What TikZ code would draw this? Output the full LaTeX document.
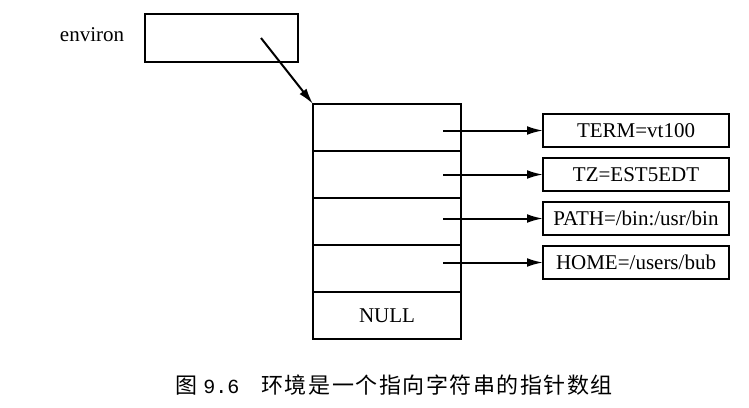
\documentclass[tikz,border=0pt]{standalone}
\usepackage{fontspec}
\setmainfont{Liberation Serif}
\newfontfamily\cjkfont{Noto Sans CJK SC}
\newfontfamily\numfont{Liberation Mono}
\usetikzlibrary{
  arrows.meta,
  positioning,
  calc
}

\begin{document}
\begin{tikzpicture}[
  x=0.5pt, y=-0.5pt,
  cell/.style={rectangle, draw, line width=1pt, minimum width=74pt, minimum height=23.5pt, inner sep=0pt, outer sep=0pt, font=\fontsize{10.5}{12}\selectfont},
  strbox/.style={rectangle, draw, line width=1pt, minimum width=93pt, minimum height=16.5pt, inner sep=0pt, outer sep=0pt, font=\fontsize{10.5}{12}\selectfont},
  arr/.style={-{Latex[length=8pt,width=4.4pt]}, line width=1pt},
]
\useasboundingbox (0,0) rectangle (749,407);

\node[strbox, minimum width=76.5pt, minimum height=24pt] (env) at (221,38) {};
\node[font=\fontsize{10.5}{12}\selectfont] (envname) at (92,35) {environ};

\node[cell] (c1) at (387,127.5) {};
\node[cell, below=0pt of c1] (c2) {};
\node[cell, below=0pt of c2] (c3) {};
\node[cell, below=0pt of c3] (c4) {};
\node[cell, below=0pt of c4] (c5) {NULL};

\node[strbox] (s1) at (636,130.5) {TERM=vt100};
\node[strbox, below=5.5pt of s1] (s2) {TZ=EST5EDT};
\node[strbox, below=5.5pt of s2] (s3) {PATH=/bin:/usr/bin};
\node[strbox, below=5.5pt of s3] (s4) {HOME=/users/bub};

\coordinate (envtail) at ([xshift=20pt]env.center);
\draw[arr] (envtail) -- (c1.north west);

\draw[arr] ($(c1.east |- s1.west)+(-9pt,0)$) -- (s1.west);
\draw[arr] ($(c2.east |- s2.west)+(-9pt,0)$) -- (s2.west);
\draw[arr] ($(c3.east |- s3.west)+(-9pt,0)$) -- (s3.west);
\draw[arr] ($(c4.east |- s4.west)+(-9pt,0)$) -- (s4.west);

\node[anchor=west, inner sep=0pt, font=\fontsize{11}{13}\selectfont] (caption) at (175,385)
  {{\cjkfont 图}\hspace{3pt}{\numfont\fontsize{10}{12}\selectfont 9.6}\hspace{11pt}{\cjkfont\addfontfeature{LetterSpace=7}环境是一个指向字符串的指针数组}};

\end{tikzpicture}
\end{document}
